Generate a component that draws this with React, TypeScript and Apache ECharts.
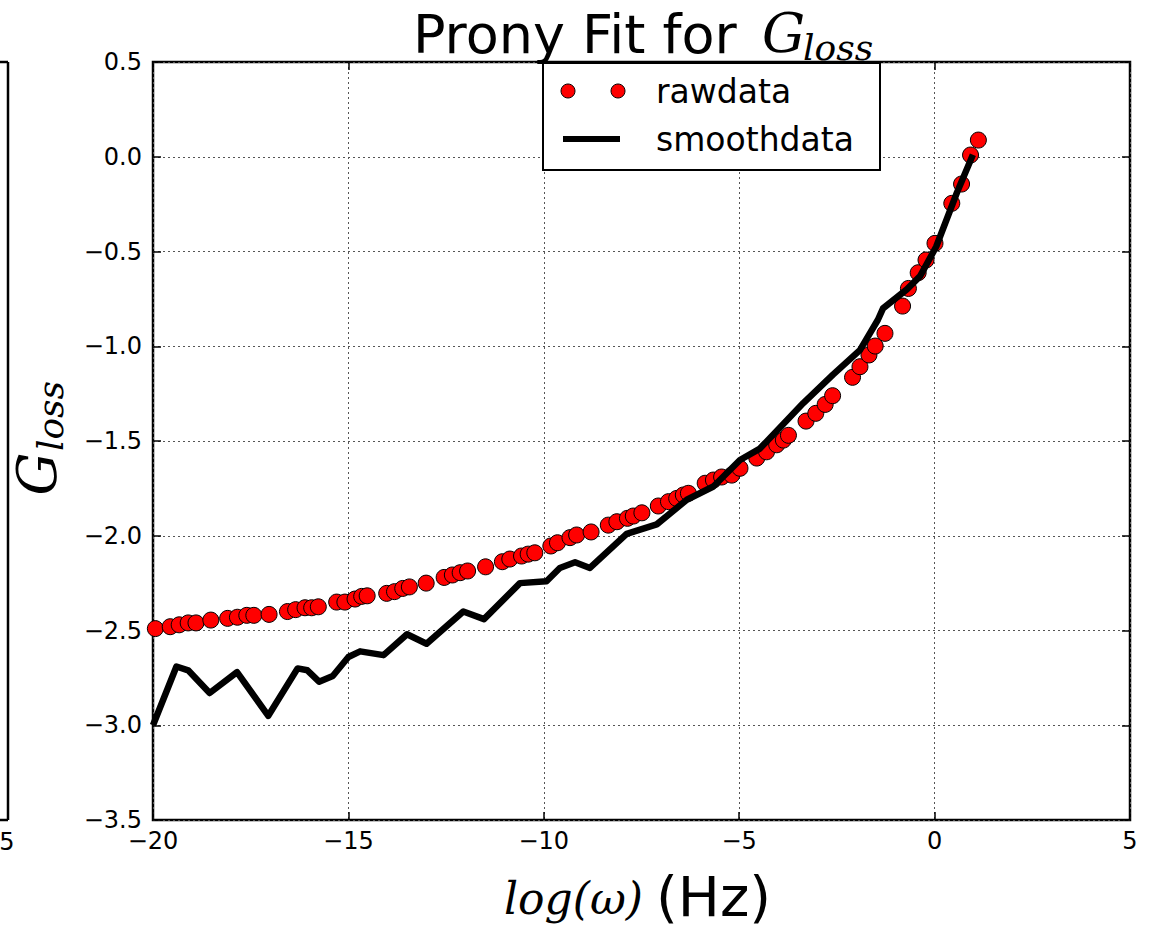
import React, { useEffect, useRef } from "react";
import * as echarts from "echarts";

const xTicks = { min: -20, max: 5, interval: 5 };
const yTicks = { min: -3.5, max: 0.5, interval: 0.5 };

const rawX = [
  -19.94, -19.56, -19.33, -19.1, -18.9, -18.52, -18.09, -17.84, -17.6, -17.42, -17.03, -16.56, -16.35, -16.11,
  -15.94, -15.77, -15.3, -15.09, -14.83, -14.66, -14.52, -14.02, -13.82, -13.61, -13.44, -13.01, -12.55, -12.34,
  -12.14, -11.95, -11.49, -11.06, -10.87, -10.57, -10.4, -10.23, -9.82, -9.65, -9.33, -9.16, -8.79, -8.35, -8.13,
  -7.86, -7.71, -7.49, -7.07, -6.81, -6.6, -6.43, -6.3, -5.87, -5.66, -5.45, -5.19, -4.98, -4.55, -4.3, -4.04,
  -3.87, -3.74, -3.29, -3.04, -2.8, -2.61, -2.1, -1.91, -1.68, -1.52, -1.27, -0.82, -0.67, -0.42, -0.22, 0.01,
  0.44, 0.69, 0.92, 1.12,
];
const rawY = [
  -2.49, -2.48, -2.47, -2.46, -2.46, -2.445, -2.436, -2.43, -2.42, -2.42, -2.415, -2.4, -2.39, -2.38, -2.38,
  -2.375, -2.35, -2.35, -2.334, -2.32, -2.317, -2.304, -2.295, -2.278, -2.27, -2.25, -2.22, -2.207, -2.195,
  -2.186, -2.164, -2.137, -2.123, -2.107, -2.097, -2.09, -2.054, -2.037, -2.01, -1.996, -1.98, -1.944, -1.926,
  -1.908, -1.896, -1.879, -1.843, -1.82, -1.803, -1.785, -1.776, -1.723, -1.706, -1.69, -1.68, -1.644, -1.59,
  -1.557, -1.52, -1.495, -1.47, -1.395, -1.354, -1.307, -1.261, -1.164, -1.108, -1.046, -0.999, -0.932, -0.788,
  -0.695, -0.612, -0.545, -0.457, -0.246, -0.144, 0.009, 0.088,
];

const smoothX = [
  -20, -19.4, -19.1, -18.55, -17.85, -17.05, -16.3, -16.05, -15.75, -15.4, -15.0, -14.7, -14.1, -13.5, -13.0,
  -12.06, -11.53, -10.61, -9.93, -9.59, -9.2, -8.82, -7.88, -7.11, -6.34, -5.66, -4.98, -4.47, -3.87, -3.36,
  -2.6, -1.91, -1.45, -1.32, -0.71, -0.37, 0.04, 0.57, 0.98,
];
const smoothY = [
  -3.0, -2.69, -2.71, -2.83, -2.72, -2.95, -2.7, -2.71, -2.77, -2.74, -2.64, -2.61, -2.63, -2.52, -2.57, -2.4,
  -2.44, -2.25, -2.24, -2.17, -2.14, -2.17, -1.99, -1.94, -1.81, -1.74, -1.6, -1.54, -1.41, -1.3, -1.15, -1.02,
  -0.86, -0.8, -0.7, -0.63, -0.475, -0.19, 0.01,
];

const seriesNames = ["rawdata", "smoothdata"];

const SANS = "DejaVu Sans";
const SERIF = "'DejaVu Serif', 'Liberation Serif', serif";
const minus = (s: string) => s.replace("-", "\u2212");

function txt(text: string, x: number, y: number, font: string, align = "left", extra: any = {}) {
  return {
    type: "text",
    x,
    y,
    z: 100,
    ...extra,
    style: {
      text,
      font,
      fill: "#000",
      align,
      verticalAlign: "middle",
      textAlign: align,
      textVerticalAlign: "middle",
    },
  };
}

export default function App() {
  const ref = useRef<HTMLDivElement>(null);
  useEffect(() => {
    if (!ref.current) return;
    const chart = echarts.init(ref.current, undefined, { renderer: "svg" });
    const grid = { left: 153, right: 23, top: 62, bottom: 107 };
    const tickStyle = { show: true, inside: true, length: 8, lineStyle: { color: "#000", width: 1.5 } };
    const splitStyle = { show: true, lineStyle: { color: "#555", width: 1, type: [2, 3] as any } };
    const noLine = { show: false, onZero: false };
    const legendX = 543,
      legendY = 63;
    chart.setOption({
      animation: false,
      backgroundColor: "#fff",
      grid: { ...grid, show: true, borderColor: "#000", borderWidth: 2.5, backgroundColor: "transparent" },
      xAxis: [
        {
          type: "value",
          ...xTicks,
          axisLine: noLine,
          axisTick: tickStyle,
          splitLine: splitStyle,
          axisLabel: {
            color: "#000",
            fontFamily: SANS,
            fontSize: 24,
            margin: 9,
            formatter: (v: number) => minus(String(v)),
          },
        },
        {
          type: "value",
          position: "top",
          ...xTicks,
          axisLine: noLine,
          axisTick: tickStyle,
          splitLine: { show: false },
          axisLabel: { show: false },
        },
      ],
      yAxis: [
        {
          type: "value",
          ...yTicks,
          axisLine: noLine,
          axisTick: tickStyle,
          splitLine: splitStyle,
          axisLabel: {
            color: "#000",
            fontFamily: SANS,
            fontSize: 24,
            margin: 11,
            formatter: (v: number) => minus(v.toFixed(1)),
          },
        },
        {
          type: "value",
          position: "right",
          ...yTicks,
          axisLine: noLine,
          axisTick: tickStyle,
          splitLine: { show: false },
          axisLabel: { show: false },
        },
      ],
      series: [
        {
          name: seriesNames[0],
          type: "scatter",
          data: rawX.map((x, i) => [x, rawY[i]]),
          symbol: "circle",
          symbolSize: 16,
          itemStyle: { color: "#ff0000", borderColor: "#000", borderWidth: 1, opacity: 1 },
          z: 3,
        },
        {
          name: seriesNames[1],
          type: "line",
          data: smoothX.map((x, i) => [x, smoothY[i]]),
          showSymbol: false,
          symbol: "none",
          lineStyle: { color: "#000", width: 6.5, join: "round" },
          z: 4,
        },
      ],
      graphic: [
        // left neighbour subplot fragment
        { type: "line", z: 50, shape: { x1: 8, y1: 62, x2: 8, y2: 820 }, style: { stroke: "#000", lineWidth: 2.5 } },
        { type: "line", z: 50, shape: { x1: 0, y1: 62, x2: 8, y2: 62 }, style: { stroke: "#000", lineWidth: 2.5 } },
        { type: "line", z: 50, shape: { x1: 0, y1: 820, x2: 8, y2: 820 }, style: { stroke: "#000", lineWidth: 2.5 } },
        txt("5", 7, 842, `24px ${SANS}`, "center"),
        // title
        txt("Prony Fit for", 413, 34, `54px ${SANS}`),
        txt("G", 762, 33, `italic 54px ${SERIF}`),
        txt("loss", 803, 47, `italic 36px ${SERIF}`),
        // x axis name
        txt("log(\u03c9)", 504, 898, `italic 44px ${SERIF}`),
        txt("(Hz)", 656, 896, `56px ${SANS}`),
        // y axis name
        txt("G", 37, 474, `italic 54px ${SERIF}`, "center", { rotation: Math.PI / 2 }),
        txt("loss", 50, 416, `italic 36px ${SERIF}`, "center", { rotation: Math.PI / 2 }),
        // legend
        {
          type: "rect",
          z: 100,
          shape: { x: legendX, y: legendY, width: 337, height: 107 },
          style: { fill: "#fff", stroke: "#000", lineWidth: 2 },
        },
        { type: "circle", z: 101, shape: { cx: 568, cy: 91, r: 7 }, style: { fill: "#ff0000", stroke: "#000", lineWidth: 1 } },
        { type: "circle", z: 101, shape: { cx: 618, cy: 91, r: 7 }, style: { fill: "#ff0000", stroke: "#000", lineWidth: 1 } },
        { type: "line", z: 101, shape: { x1: 563, y1: 139, x2: 620, y2: 139 }, style: { stroke: "#000", lineWidth: 6 } },
        txt(seriesNames[0], 656, 91, `33px ${SANS}`, "left", { z: 101 }),
        txt(seriesNames[1], 656, 139, `33px ${SANS}`, "left", { z: 101 }),
      ],
    });
    return () => chart.dispose();
  }, []);
  return (
    <div
      ref={ref}
      style={{ position: "fixed", left: 0, top: 0, width: 1153, height: 927, background: "#fff" }}
    />
  );
}
